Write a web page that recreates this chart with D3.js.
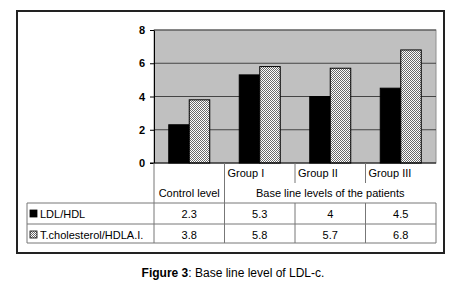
<!DOCTYPE html>
<html>
<head>
<meta charset="utf-8">
<script src="https://cdn.jsdelivr.net/npm/d3@7"></script>
<style>
  body { margin: 0; background: #fff; }
  text { font-family: "Liberation Sans", Arial, sans-serif; fill: #000; }
</style>
</head>
<body>
<div id="chart"></div>
<script>
// chart data
const categories = ['Control level', 'Group I', 'Group II', 'Group III'];
const seriesNames = ['LDL/HDL', 'T.cholesterol/HDLA.I.'];
const ldlHdl = [2.3, 5.3, 4, 4.5];
const tcHdl = [3.8, 5.8, 5.7, 6.8];
const valueLabels = [['2.3', '5.3', '4', '4.5'], ['3.8', '5.8', '5.7', '6.8']];
const yTicks = [0, 2, 4, 6, 8];

function drawChart() {
    const W = 466, H = 286;
    const plot = {left: 154, right: 436, top: 30, bottom: 163};
    const tableLeft = 27;
    const rowLines = [203, 224, 243]; // horizontal lines of the data table

    const svg = d3.select('#chart').append('svg')
        .attr('width', W).attr('height', H);

    // stipple pattern for second series
    const defs = svg.append('defs');
    const pat = defs.append('pattern')
        .attr('id', 'stipple')
        .attr('patternUnits', 'userSpaceOnUse')
        .attr('width', 2).attr('height', 2);
    pat.append('rect').attr('width', 2).attr('height', 2).attr('fill', '#fff');
    pat.append('rect').attr('width', 1).attr('height', 1).attr('fill', '#6a6a6a');
    pat.append('rect').attr('x', 1).attr('y', 1).attr('width', 1).attr('height', 1).attr('fill', '#6a6a6a');

    // outer frame
    svg.append('rect')
        .attr('x', 17).attr('y', 11).attr('width', 427).attr('height', 242)
        .attr('fill', 'none').attr('stroke', '#222').attr('stroke-width', 2);

    const xScale = d3.scaleBand()
        .domain(categories)
        .range([plot.left, plot.right])
        .padding(0);
    const xSub = d3.scaleBand()
        .domain(seriesNames)
        .range([0, xScale.bandwidth()])
        .paddingInner(0)
        .paddingOuter(0.72);
    const yScale = d3.scaleLinear()
        .domain([0, 8])
        .range([plot.bottom, plot.top]);

    // plot background
    svg.append('rect')
        .attr('x', plot.left).attr('y', plot.top)
        .attr('width', plot.right - plot.left).attr('height', plot.bottom - plot.top)
        .attr('fill', '#c0c0c0').attr('stroke', '#909090');

    // gridlines
    svg.selectAll('.grid')
        .data(yTicks.filter(d => d > 0))
        .join('line')
        .attr('class', 'grid')
        .attr('x1', plot.left).attr('x2', plot.right)
        .attr('y1', d => yScale(d)).attr('y2', d => yScale(d))
        .attr('stroke', '#444').attr('stroke-width', 1);

    // bars
    const series = [
        {name: seriesNames[0], values: ldlHdl, fill: '#000'},
        {name: seriesNames[1], values: tcHdl, fill: 'url(#stipple)'}
    ];
    series.forEach(s => {
        svg.selectAll(null)
            .data(s.values)
            .join('rect')
            .attr('x', (d, i) => xScale(categories[i]) + xSub(s.name))
            .attr('y', d => yScale(d))
            .attr('width', xSub.bandwidth())
            .attr('height', d => yScale(0) - yScale(d))
            .attr('fill', s.fill)
            .attr('stroke', '#000').attr('stroke-width', 1);
    });

    // y axis
    const yAxis = svg.append('g')
        .attr('transform', `translate(${plot.left},0)`)
        .call(d3.axisLeft(yScale).tickValues(yTicks).tickSize(4).tickSizeOuter(0));
    yAxis.select('.domain').attr('stroke', '#000');
    yAxis.selectAll('.tick line').attr('stroke', '#000');
    yAxis.selectAll('.tick text')
        .attr('x', -9)
        .style('font-family', '"Liberation Sans", Arial, sans-serif')
        .style('font-size', '11px').style('font-weight', 'bold').attr('fill', '#222');

    // x axis baseline
    svg.append('line')
        .attr('x1', plot.left - 4).attr('x2', plot.right)
        .attr('y1', yScale(0)).attr('y2', yScale(0))
        .attr('stroke', '#000');

    // table lines
    const lineColor = '#777';
    const tbl = svg.append('g').attr('stroke', lineColor).attr('stroke-width', 1);
    rowLines.forEach(y => {
        tbl.append('line').attr('x1', tableLeft).attr('x2', plot.right).attr('y1', y).attr('y2', y);
    });
    tbl.append('line').attr('x1', tableLeft).attr('x2', tableLeft).attr('y1', rowLines[0]).attr('y2', rowLines[2]);
    tbl.append('line').attr('x1', plot.right).attr('x2', plot.right).attr('y1', rowLines[0]).attr('y2', rowLines[2]);
    // full height separators
    [xScale(categories[0]), xScale(categories[1])].forEach(x => {
        tbl.append('line').attr('x1', x).attr('x2', x).attr('y1', yScale(0)).attr('y2', rowLines[2]);
    });
    // group separators, broken by the spanning label
    [xScale(categories[2]), xScale(categories[3])].forEach(x => {
        tbl.append('line').attr('x1', x).attr('x2', x).attr('y1', yScale(0)).attr('y2', 183);
        tbl.append('line').attr('x1', x).attr('x2', x).attr('y1', rowLines[0]).attr('y2', rowLines[2]);
    });

    const fs = '11px';
    // group labels
    svg.selectAll('.grpLabel')
        .data(categories.slice(1))
        .join('text')
        .attr('class', 'grpLabel')
        .attr('x', d => xScale(d) + 3)
        .attr('y', 177)
        .style('font-size', fs)
        .text(d => d);
    svg.append('text')
        .attr('x', xScale(categories[0]) + xScale.bandwidth() / 2)
        .attr('y', 197)
        .attr('text-anchor', 'middle')
        .style('font-size', fs)
        .text(categories[0]);
    svg.append('text')
        .attr('x', (xScale(categories[1]) + plot.right) / 2)
        .attr('y', 197)
        .attr('text-anchor', 'middle')
        .style('font-size', fs)
        .text('Base line levels of the patients');

    // data rows
    series.forEach((s, r) => {
        const yText = rowLines[r] + 15;
        svg.append('rect')
            .attr('x', 30).attr('y', rowLines[r] + 7)
            .attr('width', 7).attr('height', 7)
            .attr('fill', s.fill).attr('stroke', '#000').attr('stroke-width', 0.8);
        svg.append('text')
            .attr('x', 40).attr('y', yText)
            .style('font-size', fs)
            .text(s.name);
        svg.selectAll(null)
            .data(valueLabels[r])
            .join('text')
            .attr('x', (d, i) => xScale(categories[i]) + xScale.bandwidth() / 2)
            .attr('y', yText)
            .attr('text-anchor', 'middle')
            .style('font-size', fs)
            .text(d => d);
    });

    // caption
    const cap = svg.append('text')
        .attr('x', W / 2).attr('y', 277)
        .attr('text-anchor', 'middle')
        .style('font-size', '12px');
    cap.append('tspan').style('font-weight', 'bold').text('Figure 3');
    cap.append('tspan').text(': Base line level of LDL-c.');
}

drawChart();
</script>
</body>
</html>
